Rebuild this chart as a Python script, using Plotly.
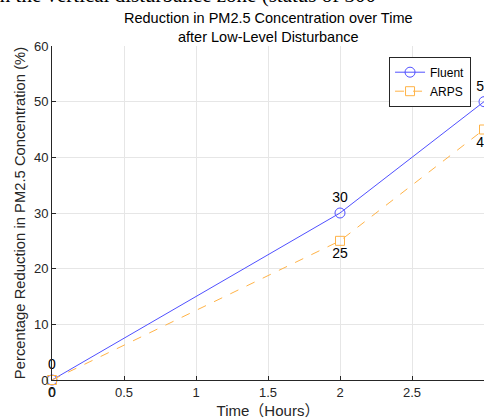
import plotly.graph_objects as go

time_hours = [0, 2, 3]
fluent = [0, 30, 50]
arps = [0, 25, 45]
x_ticks = [0, 0.5, 1, 1.5, 2, 2.5, 3]
y_ticks = [0, 10, 20, 30, 40, 50, 60]
title_lines = ["Reduction in PM2.5 Concentration over Time", "after Low-Level Disturbance"]

FONT = "Liberation Sans, Arial, Noto Sans CJK SC, sans-serif"
AX = "#262626"

fig = go.Figure()
fig.add_trace(go.Scatter(
    x=time_hours, y=fluent, name="Fluent", mode="lines+markers+text",
    line=dict(color="#5050FF", width=1),
    marker=dict(symbol="circle-open", size=10, color="#5050FF", line=dict(width=1)),
    text=[str(v) for v in fluent], textposition="top center",
    textfont=dict(family=FONT, size=14, color="black"), cliponaxis=False,
))
fig.add_trace(go.Scatter(
    x=time_hours, y=arps, name="ARPS", mode="lines+markers+text",
    line=dict(color="#FFB347", width=1, dash="dash"),
    marker=dict(symbol="square-open", size=9, color="#FFB347", line=dict(width=1)),
    text=[str(v) for v in arps], textposition="bottom center",
    textfont=dict(family=FONT, size=14, color="black"), cliponaxis=False,
))

fig.update_layout(
    width=484, height=419,
    margin=dict(l=52, r=0, t=46, b=39),
    paper_bgcolor="white", plot_bgcolor="white",
    font=dict(family=FONT, size=13, color=AX),
    showlegend=True,
    legend=dict(
        x=0.97, y=0.968, xanchor="right", yanchor="top",
        bgcolor="white", bordercolor=AX, borderwidth=1,
        font=dict(family=FONT, size=12, color="black"),
        tracegroupgap=0, itemwidth=30,
    ),
    xaxis=dict(
        range=[0, 3], tickvals=x_ticks, ticktext=[f"{v:g}" for v in x_ticks],
        showgrid=True, gridcolor="#E6E6E6", gridwidth=1,
        showline=True, linecolor=AX, linewidth=1,
        ticks="inside", ticklen=4, tickcolor=AX,
        zeroline=False, tickfont=dict(size=13, color=AX),
        title=dict(text="Time（Hours）", font=dict(size=15, color=AX), standoff=6),
    ),
    yaxis=dict(
        range=[0, 60], tickvals=y_ticks,
        showgrid=True, gridcolor="#E6E6E6", gridwidth=1,
        showline=True, linecolor=AX, linewidth=1,
        ticks="inside", ticklen=4, tickcolor=AX,
        zeroline=False, tickfont=dict(size=13, color=AX),
        title=dict(text="Percentage Reduction in PM2.5 Concentration (%)",
                   font=dict(size=14.8, color=AX), standoff=4),
    ),
)

# two-line chart title (pixel centres 18 and 37 -> paper coords)
for line, py in zip(title_lines, [18, 37]):
    fig.add_annotation(
        text=line, xref="paper", yref="paper", x=0.5, y=(380 - py) / 334,
        xanchor="center", yanchor="middle", showarrow=False,
        font=dict(family=FONT, size=14.5, color="black"),
    )

# cropped caption from the surrounding page, only its lower part visible
fig.add_annotation(
    text="in the vertical disturbance zone (status of 300",
    xref="paper", yref="paper", x=-0.14, y=(380 + 5) / 334,
    xanchor="left", yanchor="middle", showarrow=False,
    font=dict(family="Liberation Serif, Times New Roman, serif", size=21, color="black"),
)

fig.write_html("out.html")
